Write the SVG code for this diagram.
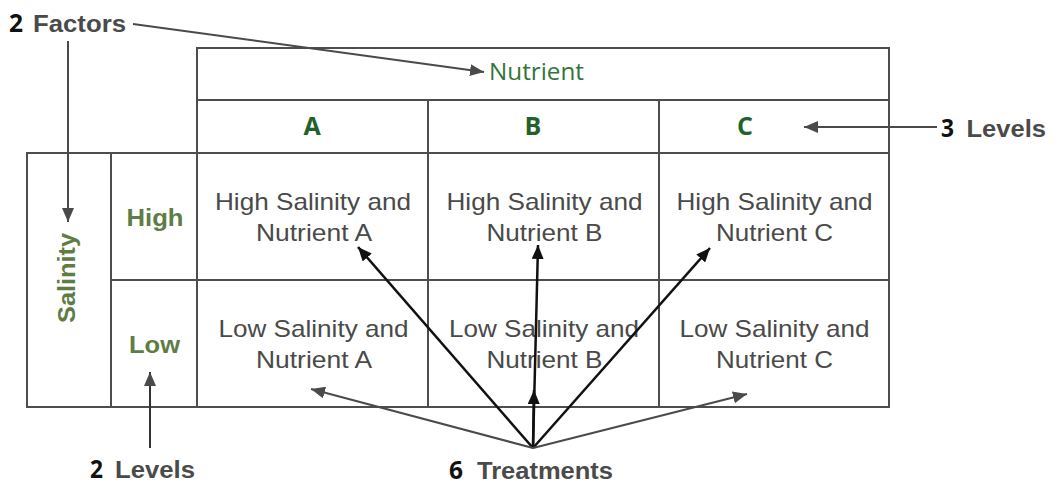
<svg xmlns="http://www.w3.org/2000/svg" width="1057" height="485" viewBox="0 0 1057 485">
<style>
.cell{fill:none;stroke:#4d4d4d;stroke-width:2}
.ct{font-family:"Liberation Sans",Arial,sans-serif;font-size:24px;fill:#4a4a4a;text-anchor:middle}
.lvl{font-family:"Liberation Sans",Arial,sans-serif;font-size:24px;font-weight:bold;fill:#5e7d45;text-anchor:middle}
.hdr{font-family:"Open Sans","Noto Sans",sans-serif;font-size:25px;font-weight:bold;fill:#22612a;text-anchor:middle}
.nut{font-family:"Open Sans","Noto Sans",sans-serif;font-size:23px;fill:#34743a;text-anchor:middle}
.num{font-family:"Open Sans","Noto Sans",sans-serif;font-size:25px;font-weight:bold;fill:#111}
.lab{font-family:"Liberation Sans",Arial,sans-serif;font-size:23px;font-weight:bold;fill:#4a4a4a}
.ga{fill:none;stroke:#4a4a4a;stroke-width:2}
.ba{fill:none;stroke:#111;stroke-width:2.5}
</style>
<defs>
<marker id="hg" markerUnits="userSpaceOnUse" markerWidth="14" markerHeight="12" refX="14" refY="6" orient="auto"><path d="M0,0 L14,6 L0,12 z" fill="#4a4a4a"/></marker>
<marker id="hb" markerUnits="userSpaceOnUse" markerWidth="14" markerHeight="12" refX="14" refY="6" orient="auto"><path d="M0,0 L14,6 L0,12 z" fill="#111"/></marker>
</defs>
<rect x="0" y="0" width="1057" height="485" fill="#ffffff"/>

<g id="nutrient"><rect class="cell" x="197" y="48" width="692" height="52"/><text class="nut" x="536.5" y="80" textLength="95" lengthAdjust="spacingAndGlyphs">Nutrient</text></g>
<g id="colA"><rect class="cell" x="197" y="100" width="231" height="53"/><text class="hdr" x="312" y="135">A</text></g>
<g id="colB"><rect class="cell" x="428" y="100" width="231" height="53"/><text class="hdr" x="533" y="135">B</text></g>
<g id="colC"><rect class="cell" x="659" y="100" width="230" height="53"/><text class="hdr" x="745" y="135">C</text></g>

<g id="salinity"><rect class="cell" x="27" y="153" width="84" height="254"/><text class="lvl" transform="translate(75,278) rotate(-90)" x="0" y="0" textLength="90" lengthAdjust="spacingAndGlyphs">Salinity</text></g>
<g id="high"><rect class="cell" x="111" y="153" width="86" height="127"/><text class="lvl" x="155" y="226" textLength="57" lengthAdjust="spacingAndGlyphs">High</text></g>
<g id="low"><rect class="cell" x="111" y="280" width="86" height="127"/><text class="lvl" x="154.5" y="353" textLength="51" lengthAdjust="spacingAndGlyphs">Low</text></g>

<g id="highA"><rect class="cell" x="197" y="153" width="231" height="127"/><text class="ct" x="313" y="210" textLength="196" lengthAdjust="spacingAndGlyphs">High Salinity and</text><text class="ct" x="314" y="241" textLength="116" lengthAdjust="spacingAndGlyphs">Nutrient A</text></g>
<g id="highB"><rect class="cell" x="428" y="153" width="231" height="127"/><text class="ct" x="544.5" y="210" textLength="196" lengthAdjust="spacingAndGlyphs">High Salinity and</text><text class="ct" x="544.5" y="241" textLength="116" lengthAdjust="spacingAndGlyphs">Nutrient B</text></g>
<g id="highC"><rect class="cell" x="659" y="153" width="230" height="127"/><text class="ct" x="774.5" y="210" textLength="196" lengthAdjust="spacingAndGlyphs">High Salinity and</text><text class="ct" x="774.5" y="241" textLength="117" lengthAdjust="spacingAndGlyphs">Nutrient C</text></g>
<g id="lowA"><rect class="cell" x="197" y="280" width="231" height="127"/><text class="ct" x="313.5" y="337" textLength="190" lengthAdjust="spacingAndGlyphs">Low Salinity and</text><text class="ct" x="314" y="368" textLength="116" lengthAdjust="spacingAndGlyphs">Nutrient A</text></g>
<g id="lowB"><rect class="cell" x="428" y="280" width="231" height="127"/><text class="ct" x="544" y="337" textLength="190" lengthAdjust="spacingAndGlyphs">Low Salinity and</text><text class="ct" x="544.5" y="368" textLength="116" lengthAdjust="spacingAndGlyphs">Nutrient B</text></g>
<g id="lowC"><rect class="cell" x="659" y="280" width="230" height="127"/><text class="ct" x="774.5" y="337" textLength="190" lengthAdjust="spacingAndGlyphs">Low Salinity and</text><text class="ct" x="774.5" y="368" textLength="117" lengthAdjust="spacingAndGlyphs">Nutrient C</text></g>

<g id="label-factors"><text class="num" x="9" y="32" textLength="14" lengthAdjust="spacingAndGlyphs">2</text><text class="lab" x="33" y="32" textLength="93" lengthAdjust="spacingAndGlyphs">Factors</text></g>
<g id="label-3levels"><text class="num" x="941" y="137" textLength="13" lengthAdjust="spacingAndGlyphs">3</text><text class="lab" x="966.5" y="137" textLength="79.5" lengthAdjust="spacingAndGlyphs">Levels</text></g>
<g id="label-2levels"><text class="num" x="90" y="478" textLength="13" lengthAdjust="spacingAndGlyphs">2</text><text class="lab" x="115" y="478" textLength="80" lengthAdjust="spacingAndGlyphs">Levels</text></g>
<g id="label-treatments"><text class="num" x="449" y="479" textLength="14" lengthAdjust="spacingAndGlyphs">6</text><text class="lab" x="477" y="479" textLength="136" lengthAdjust="spacingAndGlyphs">Treatments</text></g>

<g id="connectors">
<line class="ga" x1="133" y1="24" x2="484" y2="72" marker-end="url(#hg)"/>
<line class="ga" x1="68" y1="41" x2="68" y2="222" marker-end="url(#hg)"/>
<line class="ga" x1="937" y1="127" x2="804" y2="127" marker-end="url(#hg)"/>
<line class="ga" x1="150" y1="448" x2="150" y2="372" marker-end="url(#hg)" style="stroke:#333"/>
<line class="ba" x1="533" y1="448" x2="358" y2="247" marker-end="url(#hb)"/>
<line class="ba" x1="533" y1="448" x2="538" y2="245" marker-end="url(#hb)"/>
<line class="ba" x1="533" y1="448" x2="710" y2="248" marker-end="url(#hb)"/>
<line class="ba" x1="533" y1="448" x2="534" y2="390" marker-end="url(#hb)"/>
<line class="ga" x1="533" y1="448" x2="311" y2="389" marker-end="url(#hg)"/>
<line class="ga" x1="533" y1="448" x2="747" y2="394" marker-end="url(#hg)"/>
</g>
</svg>
